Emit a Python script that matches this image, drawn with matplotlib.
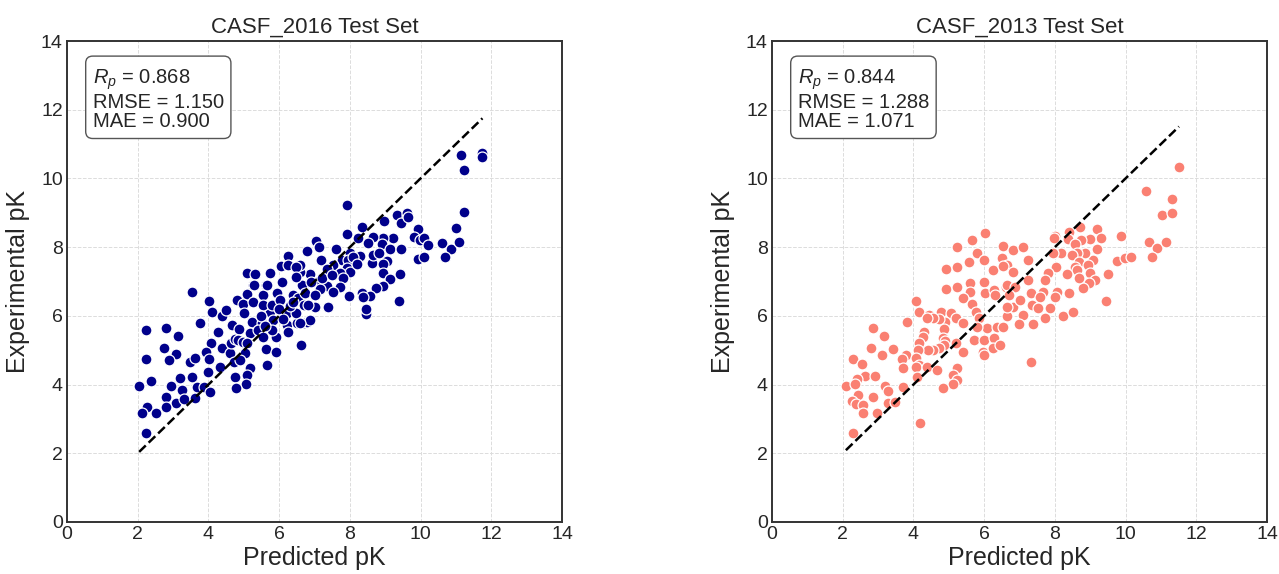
import matplotlib
matplotlib.use("Agg")
import matplotlib.pyplot as plt
import numpy as np

plt.rcParams['font.family'] = ['Liberation Sans', 'DejaVu Sans']
plt.rcParams['mathtext.fontset'] = 'custom'
plt.rcParams['mathtext.rm'] = 'Liberation Sans'
plt.rcParams['mathtext.it'] = 'Liberation Sans:italic'

titles = ["CASF_2016 Test Set", "CASF_2013 Test Set"]
colors = ["#00008B", "#FA8072"]
stats_2016 = ["0.868", "1.150", "0.900"]
stats_2013 = ["0.844", "1.288", "1.071"]
ticks = [0, 2, 4, 6, 8, 10, 12, 14]

pts_2016 = [
    (3.53,6.70),(2.23,5.59),(2.79,5.66),(3.13,5.41),(2.74,5.05),(3.08,4.89),(2.89,4.71),(2.24,4.73),
    (3.48,4.67),(3.62,4.76),(2.04,3.96),(2.37,4.11),(2.93,3.96),(2.80,3.63),(3.20,4.18),(3.24,3.84),
    (3.07,3.45),(3.32,3.57),(3.53,4.23),(3.62,3.60),(3.76,5.80),(4.03,6.44),(4.09,6.12),(4.26,5.52),
    (4.07,5.20),(3.93,4.96),(4.02,4.73),(4.00,4.38),(3.67,3.94),(3.88,3.92),(4.05,3.79),(2.80,3.36),
    (2.25,3.36),(2.11,3.18),(2.52,3.18),(2.23,2.60),(4.37,6.00),(4.50,6.17),(4.66,5.73),(4.38,5.05),
    (4.33,4.52),(4.61,4.91),(4.63,5.22),(4.76,5.32),(4.71,4.67),(4.80,6.46),(4.99,6.35),(5.02,6.07),
    (5.10,6.64),(5.27,6.90),(5.63,6.90),(5.53,6.61),(5.25,6.41),(5.22,5.83),(5.18,5.49),(4.87,5.61),
    (4.85,5.30),(4.99,5.25),(5.08,5.20),(5.04,4.91),(4.89,4.72),(4.75,4.23),(5.18,4.47),(5.08,4.28),
    (5.06,4.03),(4.78,3.89),(5.51,5.78),(5.41,5.59),(5.55,5.39),(5.62,5.03),(5.90,4.96),(5.91,5.39),
    (5.67,4.57),(5.74,6.12),(5.55,6.32),(5.79,6.32),(5.93,6.66),(6.07,7.00),(5.84,5.88),(6.21,6.07),
    (6.21,5.73),(6.26,5.54),(6.50,5.78),(6.69,5.78),(6.61,5.15),(6.40,6.61),(6.54,6.51),(6.64,6.90),
    (6.69,6.32),(6.48,6.07),(6.03,6.46),
    (7.91,9.23),(11.24,9.02),(9.32,8.93),(9.61,8.91),(9.46,8.69),(8.97,8.77),(8.33,8.60),(7.91,8.38),
    (11.00,8.55),(9.94,8.52),(9.80,8.30),(9.98,8.21),(10.10,8.26),(10.22,8.06),(10.62,8.13),(10.85,7.96),
    (11.08,8.16),(10.69,7.72),(9.94,7.65),(10.10,7.70),(9.23,8.26),(8.95,8.26),(8.66,8.30),(8.52,8.13),
    (8.90,8.09),(9.14,7.96),(9.45,7.94),(8.24,8.26),(7.03,8.19),(7.13,8.01),(6.78,7.90),(7.61,7.94),
    (8.00,7.82),(8.29,7.74),(8.62,7.55),(8.66,7.77),(8.83,7.82),(9.04,7.60),(8.95,7.51),(8.93,7.24),
    (7.77,7.63),(7.96,7.63),(8.10,7.72),(7.17,7.63),(7.53,7.48),(7.34,7.35),(6.87,7.22),(6.59,7.29),
    (7.91,7.38),(8.00,7.29),(7.72,7.24),(7.80,7.09),(9.42,7.22),(9.14,7.07),(8.93,6.87),(8.74,6.80),
    (7.06,6.99),(7.36,6.87),(7.15,6.77),(7.72,6.85),(7.53,6.70),(6.73,6.66),(7.98,6.59),(8.33,6.66),
    (8.57,6.58),(8.38,6.54),(7.39,6.27),(7.01,6.25),(6.82,6.32),(9.39,6.43),(8.46,6.05),(8.46,6.20),
    (6.78,5.83),(6.87,5.88),(6.59,5.78),(6.59,7.48),
    (6.26,7.74),(5.10,7.26),(5.32,7.22),(5.74,7.24),(6.04,7.45),(6.26,7.48),(6.47,7.43),(5.29,6.90),
    (5.65,6.90),(6.47,7.12),
    (11.13,10.68),(11.75,10.75),(11.75,10.63),(11.23,10.25),(9.61,9.00),(9.65,8.87),
    (5.50,6.00),(6.00,6.20),(6.30,6.30),(5.80,5.60),(6.10,5.90),(6.40,6.40),(5.60,5.70),(7.20,7.10),
    (7.50,7.20),(8.20,7.50),(7.00,6.60),(6.90,7.00),
]

pts_2013 = [
    (4.91,6.77),(5.22,6.83),(5.60,6.97),(5.60,6.70),(6.01,6.99),(6.03,6.67),(6.28,6.75),(6.31,6.61),
    (6.61,6.85),(5.39,6.51),(5.65,6.34),(4.07,6.44),(4.17,6.12),(4.45,6.02),(4.77,6.10),(5.05,6.07),
    (5.20,5.93),(5.41,5.80),(4.90,5.83),(4.72,5.90),(4.56,5.93),(4.37,5.93),(3.81,5.81),(4.87,5.61),
    (4.31,5.54),(4.28,5.39),(4.17,5.20),(4.83,5.35),(4.89,5.27),(4.87,5.15),(4.72,5.05),(4.56,5.01),
    (4.42,5.01),(4.14,5.01),(3.79,4.86),(3.67,4.74),(4.06,4.76),(4.17,4.57),(4.07,4.50),(4.37,4.50),
    (4.68,4.42),(5.22,4.47),(5.13,4.28),(5.24,4.13),(5.11,4.02),(4.83,3.89),(4.11,4.23),(3.71,4.47),
    (3.71,3.92),(5.41,4.96),(5.20,5.22),(2.85,5.64),(3.18,5.41),(2.79,5.05),(3.41,5.03),(3.12,4.86),
    (2.30,4.73),(2.55,4.60),(2.63,4.25),(2.91,4.25),(2.39,4.15),(2.09,3.96),(2.35,4.03),(3.20,3.96),
    (3.29,3.82),(2.44,3.70),(2.87,3.63),(2.25,3.53),(2.38,3.43),(2.58,3.40),(3.29,3.47),(3.48,3.50),
    (2.58,3.18),(2.98,3.16),(4.19,2.89),(2.30,2.60),(5.76,6.12),(5.86,5.93),(6.07,5.64),(5.79,5.69),
    (5.72,5.30),(6.01,5.30),(6.28,5.35),(5.96,4.96),(6.01,4.86),(6.24,5.05),(6.45,5.15),(6.36,5.69),
    (6.54,5.69),(6.64,5.99),
    (6.03,8.42),(5.67,8.21),(5.22,7.99),(5.79,7.82),(6.52,8.03),(6.00,7.64),(5.58,7.56),(6.50,7.69),
    (6.64,7.48),(4.91,7.35),(5.22,7.41),(6.26,7.33),
    (11.51,10.34),(10.58,9.63),(11.32,9.39),(11.04,8.94),(11.30,9.00),(10.67,8.14),(10.90,7.98),
    (11.13,8.14),(10.76,7.72),(9.87,8.31),(9.75,7.61),(9.97,7.67),(10.15,7.72),(9.45,6.43),(9.49,7.21),
    (9.18,8.53),(9.30,8.26),(8.99,8.24),(9.20,7.95),(9.09,7.63),(8.71,8.58),(8.41,8.43),(8.00,8.33),
    (7.98,8.26),(8.36,8.23),(8.74,8.21),(8.57,8.09),(8.85,7.82),(8.64,7.82),(8.17,7.84),(7.96,7.82),
    (8.48,7.77),(8.69,7.58),(8.95,7.48),(8.57,7.43),(8.62,7.33),(8.99,7.24),(9.13,7.04),(8.97,6.95),
    (8.79,6.80),(8.68,7.09),(8.33,7.21),(8.02,7.43),(7.80,7.24),(7.72,7.04),(7.25,7.63),(6.83,7.92),
    (7.11,7.99),(6.52,7.45),(6.83,7.29),(7.25,7.04),(6.64,6.90),(6.87,6.85),(7.32,6.66),(7.67,6.70),
    (8.07,6.70),(8.40,6.66),(8.00,6.56),(7.58,6.54),(7.34,6.32),(7.86,6.22),(6.83,6.27),(6.64,6.27),
    (7.11,6.03),(7.72,5.93),(8.24,6.00),(8.50,6.12),(6.71,6.61),(7.01,6.46),
    (7.39,5.76),(6.99,5.76),(7.32,4.65),(7.53,6.22),
]

pred_2016 = [p[0] for p in pts_2016]
exp_2016 = [p[1] for p in pts_2016]
pred_2013 = [p[0] for p in pts_2013]
exp_2013 = [p[1] for p in pts_2013]

fig = plt.figure(figsize=(12.79, 5.74), dpi=100)
W, H = 1279, 574
positions = [(67, 41, 562, 522), (772, 41, 1267, 522)]
datasets = [(pred_2016, exp_2016, stats_2016), (pred_2013, exp_2013, stats_2013)]
txt_col = "#262626"

for i, ((l, t, r, b), (px, ey, st)) in enumerate(zip(positions, datasets)):
    ax = fig.add_axes([l / W, 1 - b / H, (r - l) / W, (b - t) / H])
    ax.set_axisbelow(True)
    ax.grid(True, linestyle='--', color='#dcdcdc', linewidth=0.7)
    ax.scatter(px, ey, s=62, color=colors[i], edgecolor='white', linewidth=0.9, zorder=3)
    lo, hi = min(px), max(px)
    ax.plot([lo, hi], [lo, hi], color='black', linestyle='--', linewidth=1.8, zorder=4)
    ax.set_xlim(0, 14)
    ax.set_ylim(0, 14)
    ax.set_xticks(ticks)
    ax.set_yticks(ticks)
    ax.tick_params(length=0, labelsize=14, colors=txt_col, pad=3)
    for sp in ax.spines.values():
        sp.set_color('#333333')
        sp.set_linewidth(1.4)
    ax.set_title(titles[i], fontsize=16, color=txt_col, pad=6)
    ax.set_xlabel("Predicted pK", fontsize=18, color=txt_col, labelpad=2)
    ax.set_ylabel("Experimental pK", fontsize=18, color=txt_col, labelpad=8)
    text = "$R_p$ = %s\nRMSE = %s\nMAE = %s" % tuple(st)
    ax.text(0.052, 0.945, text, transform=ax.transAxes, fontsize=14.5, va='top', ha='left',
            color=txt_col, linespacing=1.05,
            bbox=dict(boxstyle='round,pad=0.35', facecolor='white', edgecolor='#555555', linewidth=1.0))

fig.savefig("out.png", dpi=100)
